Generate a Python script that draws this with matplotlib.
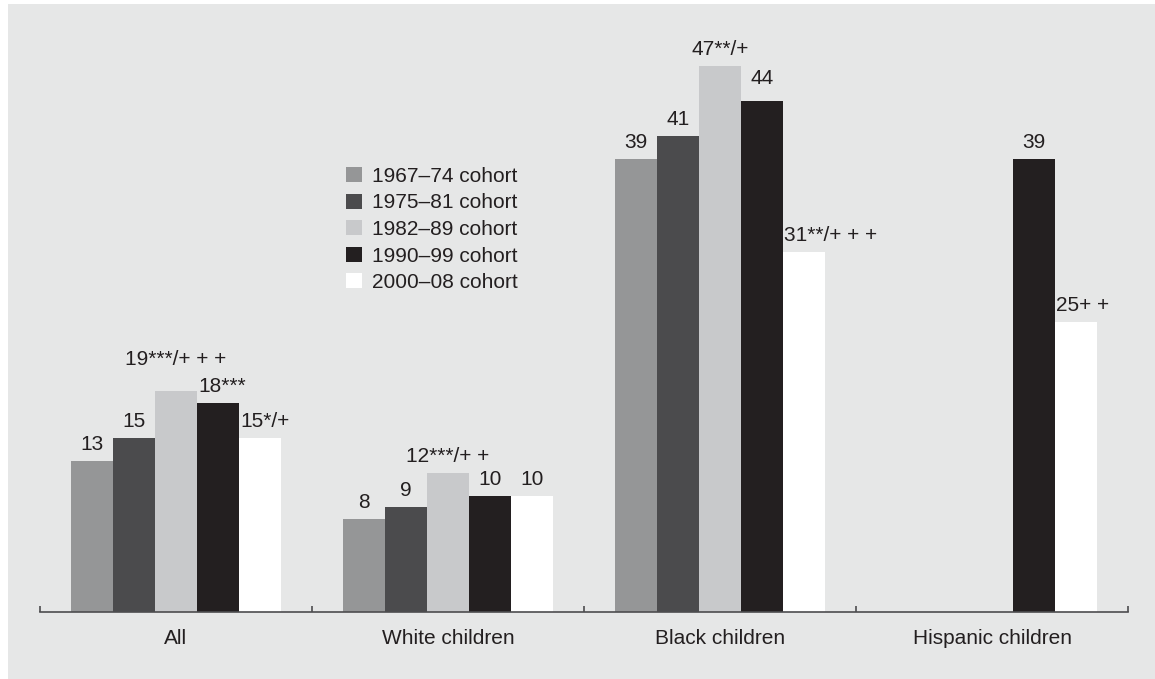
import matplotlib.pyplot as plt
import numpy as np
from matplotlib.patches import Rectangle

plt.rcParams['font.family'] = ['Liberation Sans', 'DejaVu Sans']

groups = ["All", "White children", "Black children", "Hispanic children"]
cohorts = ["1967\u201374 cohort", "1975\u201381 cohort", "1982\u201389 cohort",
           "1990\u201399 cohort", "2000\u201308 cohort"]
colors = ["#959697", "#4b4b4d", "#c8c9cb", "#231f20", "#ffffff"]

# one list per cohort, None = no data
c1967 = [13, 8, 39, None]
c1975 = [15, 9, 41, None]
c1982 = [19, 12, 47, None]
c1990 = [18, 10, 44, 39]
c2000 = [15, 10, 31, 25]
values = [c1967, c1975, c1982, c1990, c2000]

lab1967 = ["13", "8", "39", ""]
lab1975 = ["15", "9", "41", ""]
lab1982 = ["19***/+ + +", "12***/+ +", "47**/+", ""]
lab1990 = ["18***", "10", "44", "39"]
lab2000 = ["15*/+", "10", "31**/+ + +", "25+ +"]
labels = [lab1967, lab1975, lab1982, lab1990, lab2000]

# labels that start at the left edge of the bar instead of being centred
left_aligned = {(3, 0), (4, 0), (4, 2), (4, 3)}
# labels lifted a bit higher so they don't collide (points)
lifted = {(2, 0): 11, (3, 2): 4}

fig = plt.figure(figsize=(11.55, 6.79), dpi=100, facecolor="white")
fig.patches.append(Rectangle((8 / 1155, 0), 1, 1 - 4 / 679, transform=fig.transFigure,
                             facecolor="#e6e7e7", edgecolor="none", zorder=-10))

ax = fig.add_axes([40 / 1155, 67 / 679, 1088 / 1155, 581 / 679])
ax.set_facecolor("none")

bw = 42 / 272
x = np.arange(len(groups))
for i, (vals, col) in enumerate(zip(values, colors)):
    pos = x + (i - 2) * bw
    for j, v in enumerate(vals):
        if v is None:
            continue
        ax.bar(pos[j], v, width=bw, color=col, edgecolor="none", zorder=2,
               label=cohorts[i] if j == 0 else None)
        dy = 5 + lifted.get((i, j), 0)
        if (i, j) in left_aligned:
            ax.annotate(labels[i][j], (pos[j] - bw / 2, v), xytext=(1, dy),
                        textcoords="offset points", ha="left", va="bottom",
                        fontsize=15, color="#231f20")
        else:
            ax.annotate(labels[i][j], (pos[j], v), xytext=(0, dy),
                        textcoords="offset points", ha="center", va="bottom",
                        fontsize=15, color="#231f20")

ax.set_xlim(-0.5, 3.5)
ax.set_ylim(0, 50)
for s in ["top", "right", "left"]:
    ax.spines[s].set_visible(False)
ax.spines["bottom"].set_color("#4d4d4f")
ax.spines["bottom"].set_linewidth(1.2)
ax.set_yticks([])
ax.set_xticks(np.arange(-0.5, 4, 1))
ax.set_xticklabels([])
ax.tick_params(axis="x", direction="in", length=4, width=1.2, color="#4d4d4f")
ax.set_xticks(x, minor=True)
ax.set_xticklabels(groups, minor=True, fontsize=15, color="#231f20")
ax.tick_params(axis="x", which="minor", length=0, pad=12)

leg = ax.legend(loc="upper left", bbox_to_anchor=(346 / 1155, 1 - 167 / 679),
                bbox_transform=fig.transFigure, frameon=False, fontsize=15,
                handlelength=0.76, handleheight=0.76, handletextpad=0.48,
                labelspacing=0.36, borderpad=0, borderaxespad=0)
for t in leg.get_texts():
    t.set_color("#231f20")

fig.savefig("out.png", dpi=100, facecolor=fig.get_facecolor())
